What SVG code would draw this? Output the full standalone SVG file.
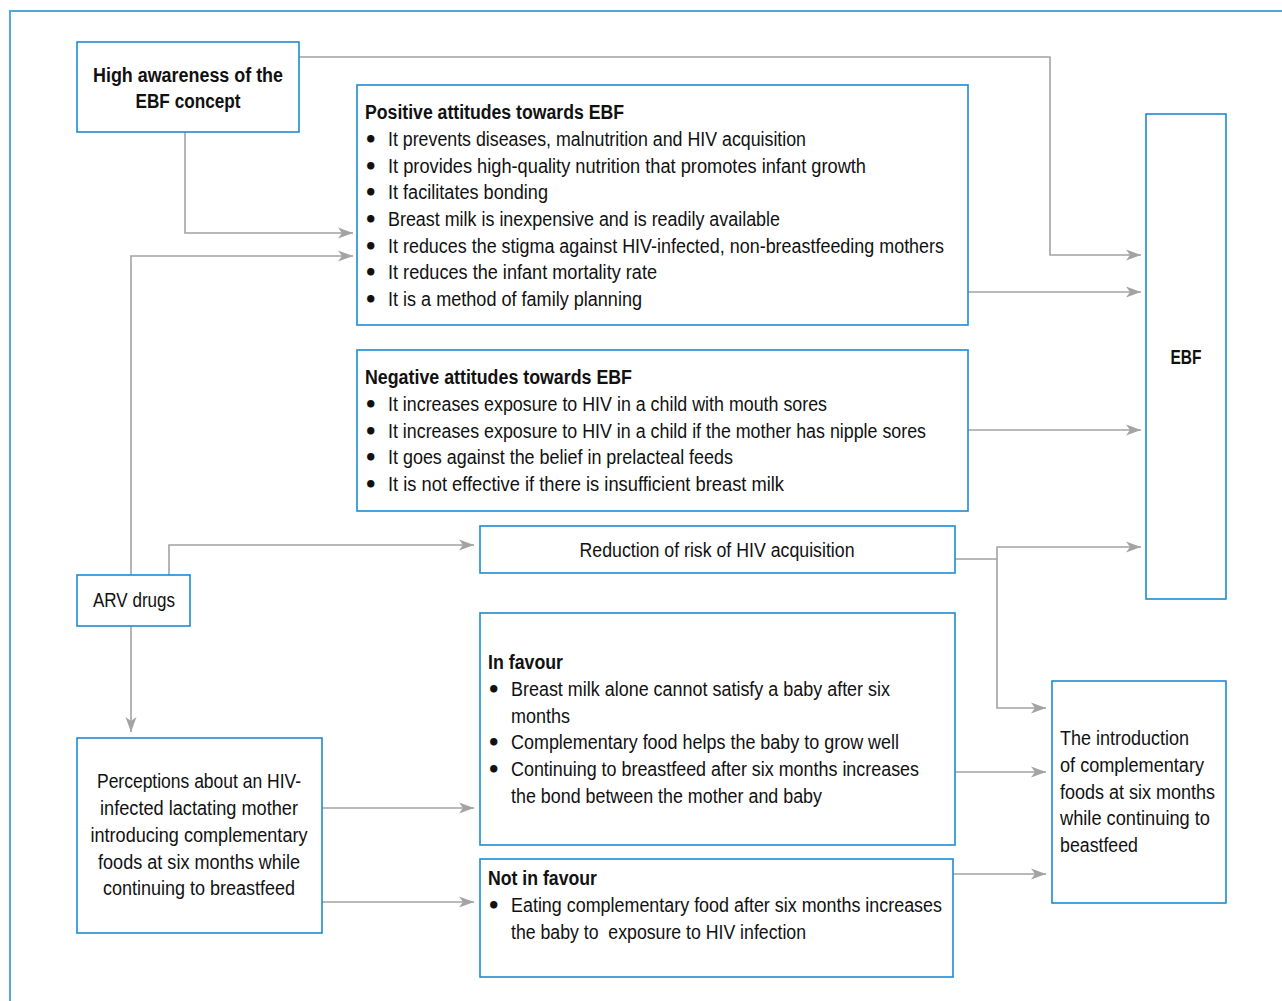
<svg xmlns="http://www.w3.org/2000/svg" width="1282" height="1001" viewBox="0 0 1282 1001">
<style>
.box{fill:#fff;stroke:#1b8bd3;stroke-width:1.6}
.frame{fill:none;stroke:#52a8dc;stroke-width:2}
.c{fill:none;stroke:#a3a3a5;stroke-width:1.6}
text{font-family:"Liberation Sans Narrow","Liberation Sans",Arial,sans-serif;font-size:19.5px;fill:#111}
.b{font-weight:bold}
.m{text-anchor:middle}
.bu{font-family:"DejaVu Sans",sans-serif;font-size:21px;font-weight:bold}
</style>
<defs>
<marker id="ah" markerUnits="userSpaceOnUse" markerWidth="16" markerHeight="12" refX="15" refY="6" orient="auto">
<path d="M0,0.5 L15,6 L0,11.5 L4,6 z" fill="#a3a3a5"/>
</marker>
</defs>
<rect width="1282" height="1001" fill="#fff"/>
<path class="frame" d="M10,1001 V11 H1282"/>
<g id="connectors">
<path class="c" d="M299,57 H1050 V255 H1141" marker-end="url(#ah)"/>
<path class="c" d="M185,132 V233 H353" marker-end="url(#ah)"/>
<path class="c" d="M131,575 V256 H353" marker-end="url(#ah)"/>
<path class="c" d="M968,292 H1141" marker-end="url(#ah)"/>
<path class="c" d="M968,430 H1141" marker-end="url(#ah)"/>
<path class="c" d="M169,575 V545 H474" marker-end="url(#ah)"/>
<path class="c" d="M955,559 H997 V547 H1141" marker-end="url(#ah)"/>
<path class="c" d="M997,559 V708 H1046" marker-end="url(#ah)"/>
<path class="c" d="M131,626 V732" marker-end="url(#ah)"/>
<path class="c" d="M322,808 H474" marker-end="url(#ah)"/>
<path class="c" d="M322,902 H474" marker-end="url(#ah)"/>
<path class="c" d="M955,772 H1046" marker-end="url(#ah)"/>
<path class="c" d="M953,874 H1046" marker-end="url(#ah)"/>
</g>
<g id="awareness">
<rect class="box" x="77" y="42" width="222" height="90"/>
<text class="b m" x="188" y="82" textLength="190" lengthAdjust="spacingAndGlyphs">High awareness of the</text>
<text class="b m" x="188" y="108" textLength="105" lengthAdjust="spacingAndGlyphs">EBF concept</text>
</g>
<g id="positive">
<rect class="box" x="357" y="85" width="611" height="240"/>
<text class="b" x="365" y="119" textLength="259" lengthAdjust="spacingAndGlyphs">Positive attitudes towards EBF</text>
<text class="bu" x="364" y="147">•</text><text x="388" y="146" textLength="418" lengthAdjust="spacingAndGlyphs">It prevents diseases, malnutrition and HIV acquisition</text>
<text class="bu" x="364" y="174">•</text><text x="388" y="173" textLength="478" lengthAdjust="spacingAndGlyphs">It provides high-quality nutrition that promotes infant growth</text>
<text class="bu" x="364" y="200">•</text><text x="388" y="199" textLength="160" lengthAdjust="spacingAndGlyphs">It facilitates bonding</text>
<text class="bu" x="364" y="227">•</text><text x="388" y="226" textLength="392" lengthAdjust="spacingAndGlyphs">Breast milk is inexpensive and is readily available</text>
<text class="bu" x="364" y="254">•</text><text x="388" y="253" textLength="556" lengthAdjust="spacingAndGlyphs">It reduces the stigma against HIV-infected, non-breastfeeding mothers</text>
<text class="bu" x="364" y="280">•</text><text x="388" y="279" textLength="269" lengthAdjust="spacingAndGlyphs">It reduces the infant mortality rate</text>
<text class="bu" x="364" y="307">•</text><text x="388" y="306" textLength="254" lengthAdjust="spacingAndGlyphs">It is a method of family planning</text>
</g>
<g id="ebf">
<rect class="box" x="1146" y="114" width="80" height="485"/>
<text class="b m" x="1186" y="364" textLength="31" lengthAdjust="spacingAndGlyphs">EBF</text>
</g>
<g id="negative">
<rect class="box" x="357" y="350" width="611" height="161"/>
<text class="b" x="365" y="384" textLength="267" lengthAdjust="spacingAndGlyphs">Negative attitudes towards EBF</text>
<text class="bu" x="364" y="412">•</text><text x="388" y="411" textLength="439" lengthAdjust="spacingAndGlyphs">It increases exposure to HIV in a child with mouth sores</text>
<text class="bu" x="364" y="439">•</text><text x="388" y="438" textLength="538" lengthAdjust="spacingAndGlyphs">It increases exposure to HIV in a child if the mother has nipple sores</text>
<text class="bu" x="364" y="465">•</text><text x="388" y="464" textLength="345" lengthAdjust="spacingAndGlyphs">It goes against the belief in prelacteal feeds</text>
<text class="bu" x="364" y="492">•</text><text x="388" y="491" textLength="396" lengthAdjust="spacingAndGlyphs">It is not effective if there is insufficient breast milk</text>
</g>
<g id="reduction">
<rect class="box" x="480" y="526" width="475" height="47"/>
<text class="m" x="717" y="557" textLength="275" lengthAdjust="spacingAndGlyphs">Reduction of risk of HIV acquisition</text>
</g>
<g id="arv">
<rect class="box" x="77" y="575" width="113" height="51"/>
<text class="m" x="134" y="607" textLength="82" lengthAdjust="spacingAndGlyphs">ARV drugs</text>
</g>
<g id="infavour">
<rect class="box" x="480" y="613" width="475" height="232"/>
<text class="b" x="488" y="669" textLength="75" lengthAdjust="spacingAndGlyphs">In favour</text>
<text class="bu" x="487" y="697">•</text><text x="511" y="696" textLength="379" lengthAdjust="spacingAndGlyphs">Breast milk alone cannot satisfy a baby after six</text>
<text x="511" y="723" textLength="59" lengthAdjust="spacingAndGlyphs">months</text>
<text class="bu" x="487" y="750">•</text><text x="511" y="749" textLength="388" lengthAdjust="spacingAndGlyphs">Complementary food helps the baby to grow well</text>
<text class="bu" x="487" y="777">•</text><text x="511" y="776" textLength="408" lengthAdjust="spacingAndGlyphs">Continuing to breastfeed after six months increases</text>
<text x="511" y="803" textLength="311" lengthAdjust="spacingAndGlyphs">the bond between the mother and baby</text>
</g>
<g id="notinfavour">
<rect class="box" x="480" y="859" width="473" height="118"/>
<text class="b" x="488" y="885" textLength="109" lengthAdjust="spacingAndGlyphs">Not in favour</text>
<text class="bu" x="487" y="913">•</text><text x="511" y="912" textLength="431" lengthAdjust="spacingAndGlyphs">Eating complementary food after six months increases</text>
<text x="511" y="939" textLength="295" lengthAdjust="spacingAndGlyphs" xml:space="preserve">the baby to  exposure to HIV infection</text>
</g>
<g id="perceptions">
<rect class="box" x="77" y="738" width="245" height="195"/>
<text class="m" x="199" y="788" textLength="204" lengthAdjust="spacingAndGlyphs">Perceptions about an HIV-</text>
<text class="m" x="199" y="815" textLength="198" lengthAdjust="spacingAndGlyphs">infected lactating mother</text>
<text class="m" x="199" y="842" textLength="217" lengthAdjust="spacingAndGlyphs">introducing complementary</text>
<text class="m" x="199" y="869" textLength="202" lengthAdjust="spacingAndGlyphs">foods at six months while</text>
<text class="m" x="199" y="895" textLength="192" lengthAdjust="spacingAndGlyphs">continuing to breastfeed</text>
</g>
<g id="introduction">
<rect class="box" x="1052" y="681" width="174" height="222"/>
<text x="1060" y="745" textLength="129" lengthAdjust="spacingAndGlyphs">The introduction</text>
<text x="1060" y="772" textLength="144" lengthAdjust="spacingAndGlyphs">of complementary</text>
<text x="1060" y="799" textLength="155" lengthAdjust="spacingAndGlyphs">foods at six months</text>
<text x="1060" y="825" textLength="150" lengthAdjust="spacingAndGlyphs">while continuing to</text>
<text x="1060" y="852" textLength="78" lengthAdjust="spacingAndGlyphs">beastfeed</text>
</g>
</svg>
